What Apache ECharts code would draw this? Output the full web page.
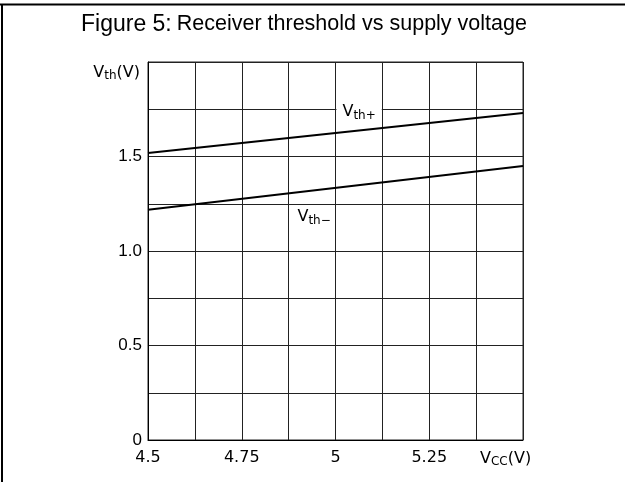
<!DOCTYPE html>
<html>
<head>
<meta charset="utf-8">
<script src="https://cdn.jsdelivr.net/npm/echarts@6/dist/echarts.min.js"></script>
<style>
html,body{margin:0;padding:0;background:#fff;}
#chart{width:625px;height:482px;}
</style>
</head>
<body>
<div id="chart"></div>
<script>
// Data
var vccPoints = [4.5, 5.5];
var vthPlus = [1.518, 1.73];
var vthMinus = [1.218, 1.45];
var xTickLabels = {'4.5': '4.5', '4.75': '4.75', '5': '5', '5.25': '5.25'};
var yTickLabels = {'0': '0', '0.5': '0.5', '1': '1.0', '1.5': '1.5'};

function pairs(xs, ys) { return xs.map(function (x, i) { return [x, ys[i]]; }); }

var chart = echarts.init(document.getElementById('chart'));
var geo = 'DejaVu Sans';
var subRich = {
  v: {fontFamily: geo, fontSize: 16, color: '#000'},
  s: {fontFamily: geo, fontSize: 12, color: '#000', padding: [7, 0, 0, 0]}
};
var option = {
  backgroundColor: '#fff',
  animation: false,
  title: {
    text: '{a|Figure 5:} {b|Receiver threshold vs supply voltage}',
    left: 76, top: 8,
    textStyle: {
      rich: {
        a: {fontFamily: 'Liberation Sans', fontSize: 23, fontWeight: 'normal', color: '#000'},
        b: {fontFamily: 'Liberation Sans', fontSize: 21.5, fontWeight: 'normal', color: '#000'}
      }
    }
  },
  graphic: [
    {type: 'line', shape: {x1: 0, y1: 4.5, x2: 625, y2: 4.5}, style: {stroke: '#000', lineWidth: 2}},
    {type: 'line', shape: {x1: 2, y1: 4, x2: 2, y2: 482}, style: {stroke: '#000', lineWidth: 2}}
  ],
  grid: {left: 148, right: 102, top: 62, bottom: 42, show: true, borderColor: '#222', borderWidth: 1},
  xAxis: {
    type: 'value', min: 4.5, max: 5.5, interval: 0.125,
    axisLine: {show: true, lineStyle: {color: '#000', width: 1}},
    axisTick: {show: false},
    splitLine: {show: true, lineStyle: {color: '#222', width: 1}},
    axisLabel: {
      margin: 10, color: '#000', fontFamily: geo, fontSize: 16,
      formatter: function (v) { var k = String(+v.toFixed(4)); return xTickLabels[k] || ''; }
    },
    name: '{v|V}{s|CC}{v|(V)}',
    nameLocation: 'end', nameGap: -43,
    nameTextStyle: {
      verticalAlign: 'top', padding: [9, 0, 0, 0],
      rich: subRich
    }
  },
  yAxis: {
    type: 'value', min: 0, max: 2, interval: 0.25,
    axisLine: {show: true, lineStyle: {color: '#000', width: 1}},
    axisTick: {show: false},
    splitLine: {show: true, lineStyle: {color: '#222', width: 1}},
    axisLabel: {
      margin: 6, color: '#000', fontFamily: 'Liberation Sans', fontSize: 17,
      formatter: function (v) { var k = String(+v.toFixed(4)); return yTickLabels[k] || ''; }
    },
    name: '{v|V}{s|th}{v|(V)}',
    nameLocation: 'end', nameGap: -1,
    nameTextStyle: {
      align: 'right', verticalAlign: 'top', padding: [0, 8, 0, 0],
      rich: subRich
    }
  },
  series: [
    {
      type: 'line', data: pairs(vccPoints, vthPlus), symbol: 'none',
      lineStyle: {color: '#000', width: 2},
      markPoint: {
        symbol: 'rect', symbolSize: 1, itemStyle: {color: 'rgba(0,0,0,0)'},
        label: {
          show: true, formatter: '{v|V}{s|th+}', backgroundColor: '#fff', padding: [2, 6, 2, 6],
          rich: subRich
        },
        data: [{coord: [5.063, 1.735]}]
      }
    },
    {
      type: 'line', data: pairs(vccPoints, vthMinus), symbol: 'none',
      lineStyle: {color: '#000', width: 2},
      markPoint: {
        symbol: 'rect', symbolSize: 1, itemStyle: {color: 'rgba(0,0,0,0)'},
        label: {
          show: true, formatter: '{v|V}{s|th\u2212}',
          rich: subRich
        },
        data: [{coord: [4.943, 1.18]}]
      }
    }
  ]
};
chart.setOption(option);
</script>
</body>
</html>
